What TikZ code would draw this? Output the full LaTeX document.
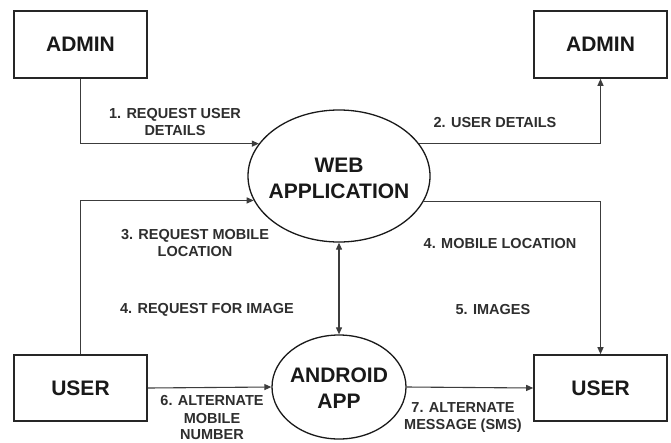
\documentclass[tikz,border=0pt]{standalone}
\usepackage{fontspec}
\setmainfont{Liberation Sans}
\usetikzlibrary{arrows.meta,shapes.geometric}
\definecolor{ln}{HTML}{3C3C3C}
\definecolor{tx}{HTML}{2E2E2E}
\tikzset{
  entity/.style={draw=black!85, line width=1.6pt, minimum width=133pt, minimum height=67pt, inner sep=0pt, font=\fontsize{21}{24}\selectfont\bfseries, text=black!90},
  process/.style={ellipse, draw=black!90, line width=1.3pt, inner sep=0pt},
  ptext/.style={align=center, font=\fontsize{21}{26}\selectfont\bfseries, text=black!90, inner sep=0pt},
  flow/.style={draw=ln, line width=1.1pt, -{Triangle[length=7pt,width=6pt]}},
  lbl/.style={align=center, text=tx, font=\fontsize{14.5}{17}\selectfont\bfseries, inner sep=0pt}
}
\begin{document}
\begin{tikzpicture}[x=1pt,y=-1pt]
\useasboundingbox (0,0) rectangle (671,442);
\fill[white] (0,0) rectangle (671,442);
\node[entity] (admin1) at (80.5,44.5) {ADMIN};
\node[entity] (admin2) at (600.5,44.5) {ADMIN};
\node[entity, minimum height=66pt] (user1) at (80.5,388) {USER};
\node[entity, minimum height=66pt] (user2) at (600.5,388) {USER};
\node[process, minimum width=182pt, minimum height=132pt] (web) at (339,176) {};
\node[ptext] (webt) at (339,178) {WEB\\APPLICATION};
\node[process, minimum width=134pt, minimum height=104pt] (android) at (339,387) {};
\node[ptext] (andt) at (339,388) {ANDROID\\APP};
\draw[flow] (admin1.south) |- (web.158);
\draw[flow] (web.22) -| (admin2.south);
\draw[flow] (user1.north) |- (web.196.5);
\draw[flow] (web.343.5) -| (user2.north);
\draw[flow, {Triangle[length=7pt,width=6pt]}-{Triangle[length=7pt,width=6pt]}] (web.south) -- (android.north);
\draw[flow] (user1.east) -- (android.west);
\draw[flow] (android.east) -- (user2.west);
\node[lbl] (l1) at (175,122) {1. REQUEST USER\\DETAILS};
\node[lbl] (l2) at (495,123) {2. USER DETAILS};
\node[lbl] (l3) at (195,243) {3. REQUEST MOBILE\\LOCATION};
\node[lbl] (l4) at (207,310) {4. REQUEST FOR IMAGE};
\node[lbl] (l5) at (500,244) {4. MOBILE LOCATION};
\node[lbl] (l6) at (493,310) {5. IMAGES};
\node[lbl] (l7) at (212,418) {6. ALTERNATE\\MOBILE\\NUMBER};
\node[lbl] (l8) at (463,418) {7. ALTERNATE\\MESSAGE (SMS)};
\end{tikzpicture}
\end{document}
